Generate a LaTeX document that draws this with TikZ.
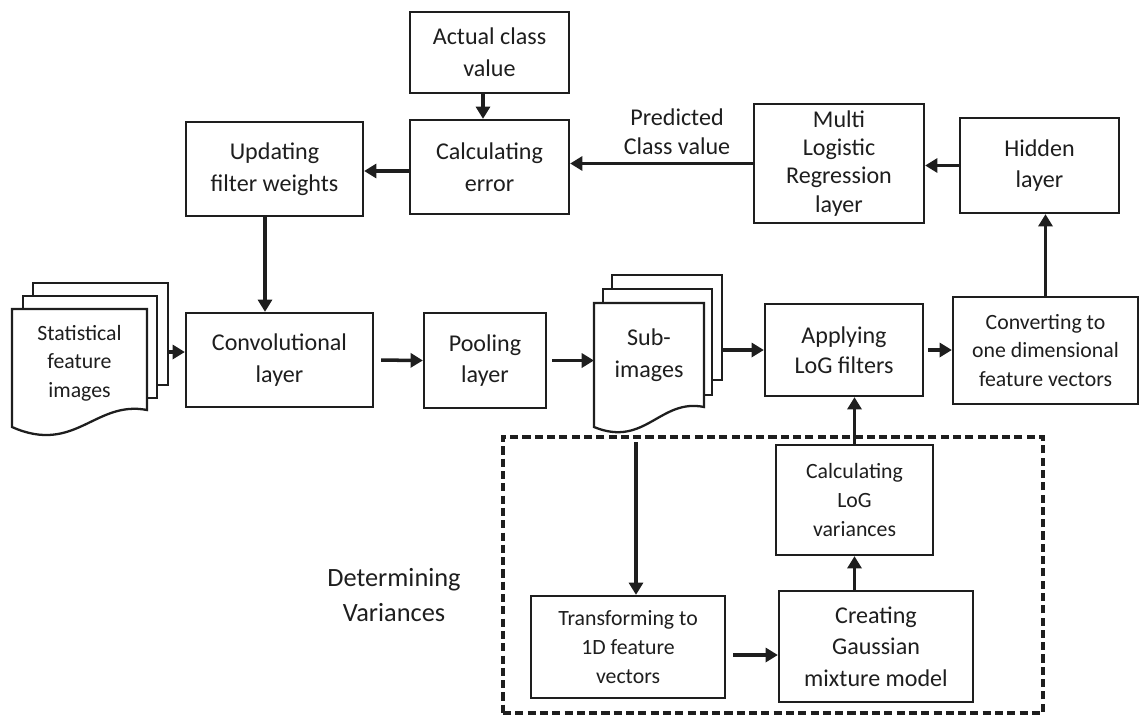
\documentclass[tikz,border=0pt]{standalone}
\usepackage{fontspec}
\setmainfont{Carlito}
\usetikzlibrary{arrows.meta,calc}
\definecolor{ink}{HTML}{1E1E1E}
\tikzset{
  box/.style={draw=ink, text=ink, line width=1.3pt, fill=white, align=center, inner sep=0pt,
    font=\fontsize{13.7}{18}\selectfont},
  sbox/.style={box, font=\fontsize{12.4}{16.3}\selectfont},
  page/.style={draw=ink, line width=1.3pt, fill=white},
  arr/.style={draw=ink, line width=2pt, -{Triangle[length=7pt,width=8pt]}},
  lbl/.style={align=center, text=ink, inner sep=0pt, font=\fontsize{13.7}{16.6}\selectfont},
  dbox/.style={draw=ink, line width=1.8pt, dash pattern=on 4.6pt off 2.4pt, inner sep=0pt}
}
\begin{document}
\begin{tikzpicture}[x=0.02cm, y=-0.02cm]
\useasboundingbox (0,0) rectangle (1140,714);

% dashed group
\node[dbox, minimum width=10.8cm, minimum height=5.52cm] (group) at (773,575) {};

% boxes
\node[box, minimum width=3.18cm, minimum height=1.62cm] (actual) at (489.5,52.5) {Actual class\\value};
\node[box, minimum width=3.18cm, minimum height=1.88cm] (calcerr) at (489.5,167) {Calculating\\error};
\node[box, minimum width=3.54cm, minimum height=1.88cm] (update) at (274.5,169) {Updating\\filter weights};
\node[box, minimum width=3.40cm, minimum height=2.38cm, font=\fontsize{13.7}{16}\selectfont] (mlr) at (839,163.5) {Multi\\Logistic\\Regression\\layer};
\node[box, minimum width=3.18cm, minimum height=1.90cm] (hidden) at (1039.5,165.5) {Hidden\\layer};
\node[box, minimum width=3.74cm, minimum height=1.88cm] (conv) at (279.5,360) {Convolutional\\layer};
\node[box, minimum width=2.44cm, minimum height=1.90cm] (pool) at (485,360.5) {Pooling\\layer};
\node[box, minimum width=3.16cm, minimum height=1.84cm, font=\fontsize{13.7}{17}\selectfont] (apply) at (844,350) {Applying\\LoG filters};
\node[sbox, minimum width=3.70cm, minimum height=2.14cm] (conv1d) at (1045.5,350.5) {Converting to\\one dimensional\\feature vectors};
\node[sbox, minimum width=3.14cm, minimum height=2.20cm] (calcvar) at (854.5,500) {Calculating\\LoG\\variances};
\node[box, minimum width=3.88cm, minimum height=2.22cm] (gauss) at (876,646.5) {Creating\\Gaussian\\mixture model};
\node[sbox, minimum width=3.88cm, minimum height=2.04cm] (trans) at (628,647) {Transforming to\\1D feature\\vectors};

% statistical feature images stack
\node[page, minimum width=2.70cm, minimum height=2.04cm] (statback) at (100.5,334) {};
\node[page, minimum width=2.68cm, minimum height=2.04cm] (statmid) at (90,347) {};
\draw[page] (12,309) -- (147,309) -- (147,410) .. controls (95,400) and (75,455) .. (12,427) -- cycle;
\node[lbl, font=\fontsize{12.4}{16.3}\selectfont] (stat) at (79.5,363) {Statistical\\feature\\images};

% sub-images stack
\node[page, minimum width=2.20cm, minimum height=2.10cm] (subback) at (667,327.5) {};
\node[page, minimum width=2.18cm, minimum height=2.12cm] (submid) at (657.5,342) {};
\draw[page] (594,303) -- (704,303) -- (704,407) .. controls (660,398) and (645,448) .. (594,427) -- cycle;
\node[lbl, font=\fontsize{13.7}{18}\selectfont] (sub) at (649,355) {Sub-\\images};

% labels
\node[lbl] (pred) at (677,131.5) {Predicted\\Class value};
\node[lbl, font=\fontsize{15}{19.8}\selectfont] (detvar) at (394,595) {Determining\\Variances};

% coordinates
\coordinate (statout) at (168,352);
\coordinate (subin) at (594,357);
\coordinate (subdown) at (636,442);
\coordinate (e1) at ($(calcerr.west)+(0,4)$);
\coordinate (u1) at ($(update.south)+(-9.5,0)$);
\coordinate (t1) at ($(trans.east)+(7,8)$);

% connectors
\draw[arr] ([xshift=-0.13cm]actual.south) -- ([xshift=-0.13cm]calcerr.north);
\draw[arr] (e1) -- (e1 -| update.east);
\draw[arr] (mlr.west) -- (mlr.west -| calcerr.east);
\draw[arr] (hidden.west) -- (hidden.west -| mlr.east);
\draw[arr] (conv1d.north) -- (conv1d.north |- hidden.south);
\draw[arr] (u1) -- (u1 |- conv.north);
\draw[arr] (statout) -- (statout -| conv.west);
\draw[arr, shorten <=0.14cm] (conv.east) -- (pool.west);
\draw[arr, shorten <=0.1cm] (pool.east) -- (pool.east -| subin);
\draw[arr] (subback.east |- apply.west) -- (apply.west);
\draw[arr, shorten <=0.08cm] (apply.east) -- (apply.east -| conv1d.west);
\draw[arr] (calcvar.north) -- (calcvar.north |- apply.south);
\draw[arr] (calcvar.south |- gauss.north) -- (calcvar.south);
\draw[arr] (t1) -- (t1 -| gauss.west);
\draw[arr] (subdown) -- (subdown |- trans.north);
\end{tikzpicture}
\end{document}
